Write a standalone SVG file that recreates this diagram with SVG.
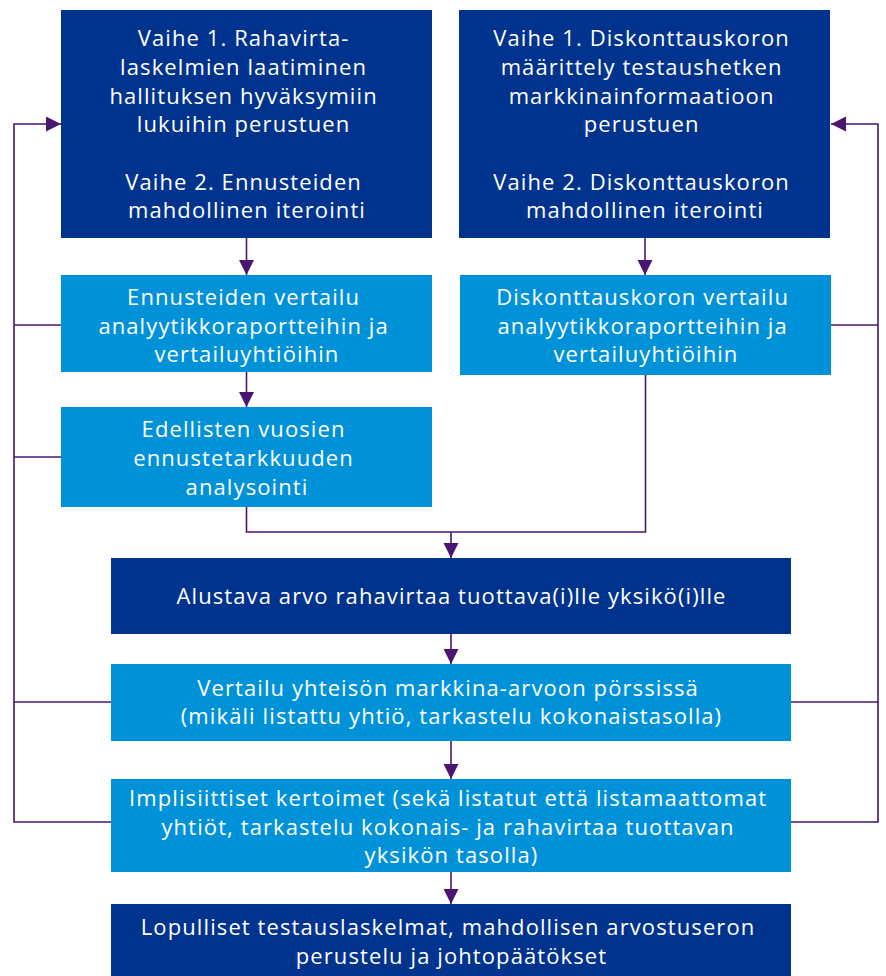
<svg xmlns="http://www.w3.org/2000/svg" width="886" height="976" viewBox="0 0 886 976">
  <style>
    .dark { fill: #00338d; }
    .light { fill: #0092d9; }
    .label { font-family: "Open Sans", "Liberation Sans", sans-serif; font-size: 22px; letter-spacing: 1.1px; fill: #ffffff; text-anchor: middle; }
    .conn { fill: none; stroke: #4a1571; stroke-width: 1.6; }
  </style>
  <defs>
    <marker id="arrow" markerUnits="userSpaceOnUse" markerWidth="16" markerHeight="16" refX="15" refY="7.5" orient="auto">
      <path d="M0,0 L15,7.5 L0,15 Z" fill="#4a1571"/>
    </marker>
  </defs>

  <!-- connectors -->
  <g id="connectors" class="conn">
    <!-- down arrows -->
    <path d="M246.5,238 V275" marker-end="url(#arrow)"/>
    <path d="M645,238 V275" marker-end="url(#arrow)"/>
    <path d="M246.5,372 V407" marker-end="url(#arrow)"/>
    <path d="M246.5,507 V532 H645.5 V375"/>
    <path d="M451,532 V558" marker-end="url(#arrow)"/>
    <path d="M451,634 V664" marker-end="url(#arrow)"/>
    <path d="M451,741 V779" marker-end="url(#arrow)"/>
    <path d="M451,872 V904" marker-end="url(#arrow)"/>
    <!-- left feedback loop -->
    <path d="M111,822 H14 V124 H61" marker-end="url(#arrow)"/>
    <path d="M14,325 H61"/>
    <path d="M14,457 H61"/>
    <path d="M14,702 H111"/>
    <!-- right feedback loop -->
    <path d="M791,822 H878 V124 H831" marker-end="url(#arrow)"/>
    <path d="M831,325 H878"/>
    <path d="M791,702 H878"/>
  </g>

  <g id="step-cashflow">
    <rect class="dark" x="61" y="10" width="371" height="228"/>
    <text class="label">
      <tspan x="247" y="46">Vaihe 1. Rahavirta-</tspan>
      <tspan x="247" y="75">laskelmien laatiminen</tspan>
      <tspan x="247" y="104">hallituksen hyväksymiin</tspan>
      <tspan x="247" y="132">lukuihin perustuen</tspan>
      <tspan x="247" y="190">Vaihe 2. Ennusteiden</tspan>
      <tspan x="247" y="218">mahdollinen iterointi</tspan>
    </text>
  </g>

  <g id="step-discount">
    <rect class="dark" x="459" y="10" width="371" height="228"/>
    <text class="label">
      <tspan x="645" y="46">Vaihe 1. Diskonttauskoron</tspan>
      <tspan x="645" y="75">määrittely testaushetken</tspan>
      <tspan x="645" y="104">markkinainformaatioon</tspan>
      <tspan x="645" y="132">perustuen</tspan>
      <tspan x="645" y="190">Vaihe 2. Diskonttauskoron</tspan>
      <tspan x="645" y="218">mahdollinen iterointi</tspan>
    </text>
  </g>

  <g id="forecast-compare">
    <rect class="light" x="61" y="275" width="371" height="97"/>
    <text class="label">
      <tspan x="247" y="305">Ennusteiden vertailu</tspan>
      <tspan x="247" y="334">analyytikkoraportteihin ja</tspan>
      <tspan x="247" y="362">vertailuyhtiöihin</tspan>
    </text>
  </g>

  <g id="discount-compare">
    <rect class="light" x="460" y="275" width="371" height="100"/>
    <text class="label">
      <tspan x="646" y="305">Diskonttauskoron vertailu</tspan>
      <tspan x="646" y="334">analyytikkoraportteihin ja</tspan>
      <tspan x="646" y="362">vertailuyhtiöihin</tspan>
    </text>
  </g>

  <g id="accuracy">
    <rect class="light" x="61" y="407" width="371" height="100"/>
    <text class="label">
      <tspan x="247" y="437">Edellisten vuosien</tspan>
      <tspan x="247" y="466">ennustetarkkuuden</tspan>
      <tspan x="247" y="495">analysointi</tspan>
    </text>
  </g>

  <g id="preliminary-value">
    <rect class="dark" x="111" y="558" width="680" height="76"/>
    <text class="label" x="451.5" y="604">Alustava arvo rahavirtaa tuottava(i)lle yksikö(i)lle</text>
  </g>

  <g id="market-value">
    <rect class="light" x="111" y="664" width="680" height="77"/>
    <text class="label">
      <tspan x="451.5" y="696">Vertailu yhteisön markkina-arvoon pörssissä</tspan>
      <tspan x="451.5" y="724">(mikäli listattu yhtiö, tarkastelu kokonaistasolla)</tspan>
    </text>
  </g>

  <g id="multiples">
    <rect class="light" x="111" y="779" width="680" height="93"/>
    <text class="label">
      <tspan x="451.5" y="806">Implisiittiset kertoimet (sekä listatut että listamaattomat</tspan>
      <tspan x="451.5" y="835">yhtiöt, tarkastelu kokonais- ja rahavirtaa tuottavan</tspan>
      <tspan x="451.5" y="863">yksikön tasolla)</tspan>
    </text>
  </g>

  <g id="final">
    <rect class="dark" x="111" y="904" width="680" height="72"/>
    <text class="label">
      <tspan x="451.5" y="935">Lopulliset testauslaskelmat, mahdollisen arvostuseron</tspan>
      <tspan x="451.5" y="964">perustelu ja johtopäätökset</tspan>
    </text>
  </g>
</svg>
